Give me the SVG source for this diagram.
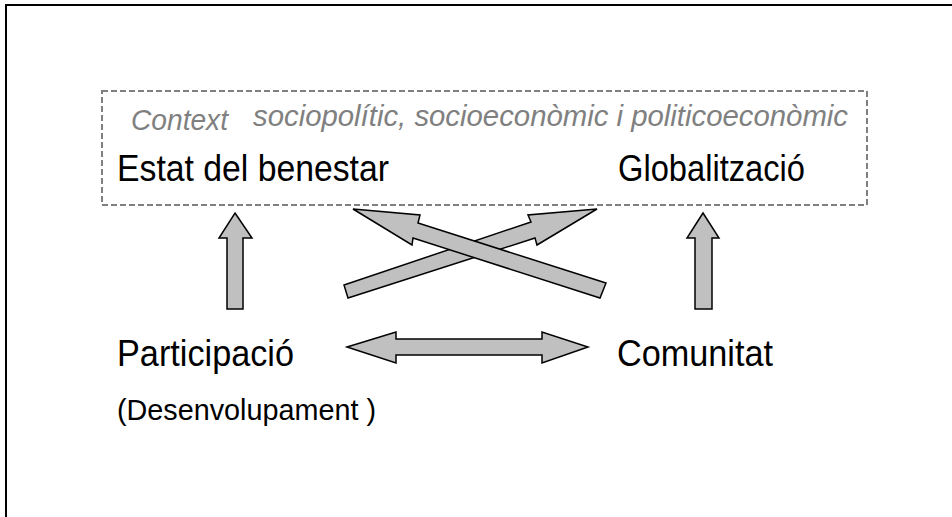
<svg xmlns="http://www.w3.org/2000/svg" width="952" height="517" viewBox="0 0 952 517">
<style>
.lbl{font-family:"Liberation Sans",Arial,sans-serif;font-size:36px;fill:#000}
.sub{font-size:30px}
.ctx{font-family:"Liberation Sans",Arial,sans-serif;font-size:29px;font-style:italic;fill:#808080}
.arr{fill:#c0c0c0;stroke:#000;stroke-width:1.5;stroke-linejoin:miter}
</style>
<rect width="952" height="517" fill="#fff"/>
<path d="M6,517 V5 H952" fill="none" stroke="#000" stroke-width="2"/>
<g id="context">
<rect x="102" y="91" width="765" height="114" fill="none" stroke="#808080" stroke-width="2" stroke-dasharray="6,3"/>
<text class="ctx" x="131" y="130" textLength="97" lengthAdjust="spacingAndGlyphs">Context</text>
<text class="ctx" x="253" y="126" textLength="595" lengthAdjust="spacingAndGlyphs">sociopolític, socioeconòmic i politicoeconòmic</text>
</g>
<g id="estat"><text class="lbl" x="117" y="181" textLength="272" lengthAdjust="spacingAndGlyphs">Estat del benestar</text></g>
<g id="globalitzacio"><text class="lbl" x="618" y="181" textLength="187" lengthAdjust="spacingAndGlyphs">Globalització</text></g>
<g id="participacio"><text class="lbl" x="117" y="366" textLength="177" lengthAdjust="spacingAndGlyphs">Participació</text>
<text class="lbl sub" x="117" y="420" textLength="259" lengthAdjust="spacingAndGlyphs">(Desenvolupament )</text></g>
<g id="comunitat"><text class="lbl" x="617" y="366" textLength="156" lengthAdjust="spacingAndGlyphs">Comunitat</text></g>
<g id="connectors">
<path class="arr" d="M235,213 L252,238 L243,238 L243,309 L227,309 L227,238 L219,238 Z"/>
<path class="arr" d="M703,213 L719,238 L712,238 L712,309 L695,309 L695,238 L687,238 Z"/>
<path class="arr" d="M347,347 L396,332 L396,339 L542,339 L542,332 L588,347 L542,363 L542,355 L396,355 L396,363 Z"/>
<path class="arr" d="M597,209 L537,245 L535,238 L348,298 L344,285 L531,222 L528,215 Z"/>
<path class="arr" d="M353,209 L420,215 L418,223 L606,283 L600,298 L413,238 L412,245 Z"/>
</g>
</svg>
